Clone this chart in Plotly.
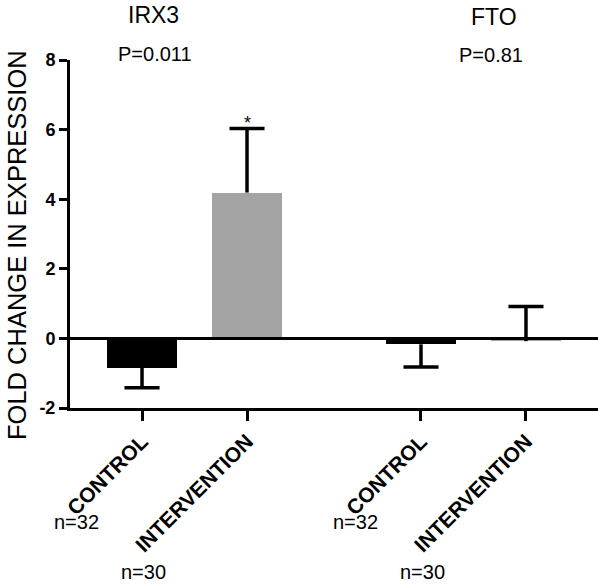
import plotly.graph_objects as go

# ---- data ----
genes = ["IRX3", "FTO"]
groups = ["CONTROL", "INTERVENTION"]
p_values = ["P=0.011", "P=0.81"]
n_counts = ["n=32", "n=30"]
means = [-0.84, 4.19, -0.17, -0.08]          # IRX3 ctrl, IRX3 int, FTO ctrl, FTO int
errors = [0.58, 1.84, 0.65, 1.00]
err_dir = [-1, 1, -1, 1]                      # error bar drawn below (-1) or above (+1)
significance = ["", "*", "", ""]
bar_colors = ["#000000", "#a4a4a4", "#000000", "#a4a4a4"]
y_ticks = [-2, 0, 2, 4, 6, 8]
y_title = "FOLD CHANGE IN EXPRESSION"

# ---- layout helpers ----
W, H = 598, 587
L, R, T, B = 70, 0, 60, 179
group_gap = 2.657
xpos = []
for gi, _ in enumerate(genes):
    for ci, _ in enumerate(groups):
        xpos.append(1 + gi * group_gap + ci)
tick_text = ["<b>%s</b>" % g for _ in genes for g in groups]

def pxx(px):
    return (px - L) / (W - L - R)

def pxy(py):
    return (H - B - py) / (H - T - B)

FONT = "Liberation Sans, Arial, sans-serif"

fig = go.Figure()
fig.add_trace(go.Bar(
    x=xpos, y=means, width=0.667,
    marker=dict(color=bar_colors, line=dict(width=0)),
    showlegend=False, hoverinfo="skip",
))

# error bars (stem + cap only on the far side)
cap_half = 0.167
ex, ey = [], []
for x, m, e, d in zip(xpos, means, errors, err_dir):
    end = m + d * e
    ex += [x, x, None, x - cap_half, x + cap_half, None]
    ey += [m, end, None, end, end, None]
fig.add_trace(go.Scatter(
    x=ex, y=ey, mode="lines",
    line=dict(color="black", width=3.5),
    showlegend=False, hoverinfo="skip",
))

annotations = []
# significance stars
for x, m, e, d, s in zip(xpos, means, errors, err_dir, significance):
    if s:
        annotations.append(dict(
            x=x, y=m + d * e, xref="x", yref="y", text=s, showarrow=False,
            yanchor="bottom", yshift=-6, font=dict(family=FONT, size=18, color="black"),
        ))

# gene titles and p values
title_px = [(153, 15), (494, 17)]
p_px = [(155, 54), (491, 55)]
for gene, pv, (tx, ty), (qx, qy) in zip(genes, p_values, title_px, p_px):
    annotations.append(dict(x=pxx(tx), y=pxy(ty), xref="paper", yref="paper",
                            text=gene, showarrow=False, xanchor="center", yanchor="middle",
                            font=dict(family=FONT, size=23, color="black")))
    annotations.append(dict(x=pxx(qx), y=pxy(qy), xref="paper", yref="paper",
                            text=pv, showarrow=False, xanchor="center", yanchor="middle",
                            font=dict(family=FONT, size=20, color="black")))

# n counts
n_offsets = [(-0.62, 522), (-0.99, 572)]
for i, x in enumerate(xpos):
    ci = i % len(groups)
    dx, py = n_offsets[ci]
    annotations.append(dict(x=x + dx, y=pxy(py), xref="x", yref="paper",
                            text=n_counts[ci], showarrow=False, xanchor="center", yanchor="middle",
                            font=dict(family=FONT, size=20, color="black")))

# y-axis title
annotations.append(dict(x=pxx(17), y=pxy(245), xref="paper", yref="paper",
                        text=y_title, textangle=-90, showarrow=False,
                        xanchor="center", yanchor="middle",
                        font=dict(family=FONT, size=25.5, color="black")))

fig.update_layout(
    width=W, height=H,
    margin=dict(l=L, r=R, t=T, b=B, pad=0),
    paper_bgcolor="white", plot_bgcolor="white",
    font=dict(family=FONT, color="black"),
    bargap=0,
    annotations=annotations,
    shapes=[dict(type="line", xref="paper", yref="y", x0=0, x1=1, y0=0, y1=0,
                 line=dict(color="black", width=3), layer="above")],
    xaxis=dict(
        range=[0.314, 5.343], tickmode="array", tickvals=xpos, ticktext=tick_text,
        tickangle=-45, ticks="outside", ticklen=10, tickwidth=3, tickcolor="black",
        showline=True, linewidth=3, linecolor="black", showgrid=False, zeroline=False,
        tickfont=dict(family=FONT, size=21, color="black"),
    ),
    yaxis=dict(
        range=[-2, 8], tickmode="array", tickvals=y_ticks,
        ticktext=["<b>%d</b>" % v for v in y_ticks], ticks="outside",
        ticklen=8, tickwidth=3, tickcolor="black",
        showline=True, linewidth=3, linecolor="black", showgrid=False, zeroline=False,
        tickfont=dict(family=FONT, size=18, color="black"),
    ),
)

fig.write_html("out.html", config={"displayModeBar": False},
               post_script="document.body.style.margin='0';document.body.style.overflow='hidden';")
